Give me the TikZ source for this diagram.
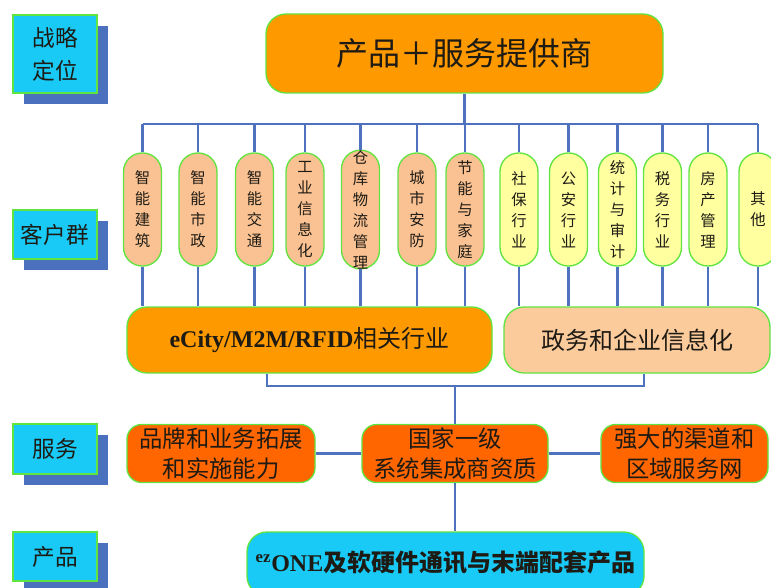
\documentclass[tikz,border=0pt]{standalone}
\usepackage{fontspec}
\setmainfont{Liberation Serif}
\newfontfamily\cjk{Noto Sans CJK SC}
\usetikzlibrary{shadows}
\definecolor{conn}{RGB}{79,114,190}
\definecolor{gborder}{RGB}{96,228,64}
\definecolor{cyanbox}{RGB}{24,202,245}
\definecolor{shadowc}{RGB}{74,112,190}
\definecolor{orangebox}{RGB}{255,153,0}
\definecolor{peach}{RGB}{250,194,146}
\definecolor{peachbig}{RGB}{251,203,156}
\definecolor{yellowp}{RGB}{255,255,160}
\definecolor{servbox}{RGB}{255,102,0}
\definecolor{txt}{RGB}{30,26,20}
\begin{document}
\begin{tikzpicture}[x=0.75pt,y=-0.75pt,
  every node/.style={text=txt, inner sep=0pt, align=center},
  lbl/.style={draw=gborder, line width=1pt, fill=cyanbox, minimum width=63pt,
    font={\cjk\fontsize{17}{24.75}\selectfont},
    drop shadow={shadow xshift=8.25pt, shadow yshift=-8.25pt, opacity=1, fill=shadowc, draw=none}},
  pill/.style={draw=gborder, line width=1pt, rounded corners=14pt, minimum width=28.5pt,
    minimum height=84.75pt, font={\cjk\fontsize{11.5}{15.75}\selectfont}},
  bigbox/.style={draw=gborder, line width=1pt, rounded corners=15pt},
  serv/.style={draw=gborder, line width=1pt, rounded corners=11pt, fill=servbox,
    minimum height=43.5pt, font={\cjk\fontsize{17.5}{23}\selectfont}},
  link/.style={draw=conn, line width=1.8pt}
]
\useasboundingbox (0,0) rectangle (771,588);

% left labels
\node[lbl, minimum height=58.5pt] (l1) at (55,54) {战略\\定位};
\node[lbl, minimum height=36.75pt] (l2) at (55,234.5) {客户群};
\node[lbl, minimum height=37.5pt] (l3) at (55,449) {服务};
\node[lbl, minimum height=36.75pt] (l4) at (55,556.5) {产品};

% top box
\node[bigbox, fill=orangebox, minimum width=297.75pt, minimum height=59.25pt,
  font={\cjk\fontsize{24}{28}\selectfont}] (top) at (464.5,53.5) {产品＋服务提供商};

% pills
\node[pill, fill=peach] (p1) at (142.5,209.5) {智\\能\\建\\筑};
\node[pill, fill=peach] (p2) at (198,209.5) {智\\能\\市\\政};
\node[pill, fill=peach] (p3) at (254.5,209.5) {智\\能\\交\\通};
\node[pill, fill=peach] (p4) at (305,209.5) {工\\业\\信\\息\\化};
\node[pill, fill=peach] (p5) at (360.5,209.5) {仓\\库\\物\\流\\管\\理};
\node[pill, fill=peach] (p6) at (417,209.5) {城\\市\\安\\防};
\node[pill, fill=peach] (p7) at (465,209.5) {节\\能\\与\\家\\庭};
\node[pill, fill=yellowp] (p8) at (519,209.5) {社\\保\\行\\业};
\node[pill, fill=yellowp] (p9) at (568.5,209.5) {公\\安\\行\\业};
\node[pill, fill=yellowp] (p10) at (617.5,209.5) {统\\计\\与\\审\\计};
\node[pill, fill=yellowp] (p11) at (662.5,209.5) {税\\务\\行\\业};
\node[pill, fill=yellowp] (p12) at (708,209.5) {房\\产\\管\\理};
\node[pill, fill=yellowp] (p13) at (758,209.5) {其\\他};

% big boxes
\node[bigbox, fill=orangebox, minimum width=273.75pt, minimum height=49.5pt] (ecity) at (309.5,340)
  {{\fontsize{18}{22}\selectfont\bfseries eCity/M2M/RFID}{\cjk\fontsize{18}{22}\selectfont 相关行业}};
\node[bigbox, fill=peachbig, minimum width=199.5pt, minimum height=49.5pt,
  font={\cjk\fontsize{18}{22}\selectfont}] (gov) at (637,340) {政务和企业信息化};

% service row
\node[serv, minimum width=141pt] (brand) at (221,453.5) {品牌和业务拓展\\和实施能力};
\node[serv, minimum width=139.5pt] (nat) at (455,453.5) {国家一级\\系统集成商资质};
\node[serv, minimum width=125.25pt] (strong) at (684.5,453.5) {强大的渠道和\\区域服务网};

% product box
\node[bigbox, fill=cyanbox, minimum width=297.75pt, minimum height=48pt] (ez) at (445.5,564)
  {\raisebox{4.5pt}{{\fontsize{18}{22}\selectfont\bfseries\textsuperscript{ez}ONE}{\cjk\bfseries\fontsize{18}{22}\selectfont 及软硬件通讯与末端配套产品}}};

% connectors top
\coordinate (bus) at (0,124);
\draw[link] (top.south) -- (top.south |- bus);
\draw[link] (p1.north |- bus) -- (p13.north |- bus);
\foreach \i in {1,...,13} {
  \draw[link] (p\i.north) -- (p\i.north |- bus);
}
\foreach \i in {1,...,7} {
  \draw[link] (p\i.south) -- (p\i.south |- ecity.north);
}
\foreach \i in {8,...,13} {
  \draw[link] (p\i.south) -- (p\i.south |- gov.north);
}

% lower bus
\coordinate (b1) at (267,386);
\coordinate (b2) at (644,386);
\draw[link] (b1 |- ecity.south) -- (b1) -- (b2) -- (b2 |- gov.south);
\draw[link] (nat.north |- b1) -- (nat.north);
\draw[link] (brand.east) -- (nat.west);
\draw[link] (nat.east) -- (strong.west);
\draw[link] (nat.south) -- (nat.south |- ez.north);
\end{tikzpicture}
\end{document}
